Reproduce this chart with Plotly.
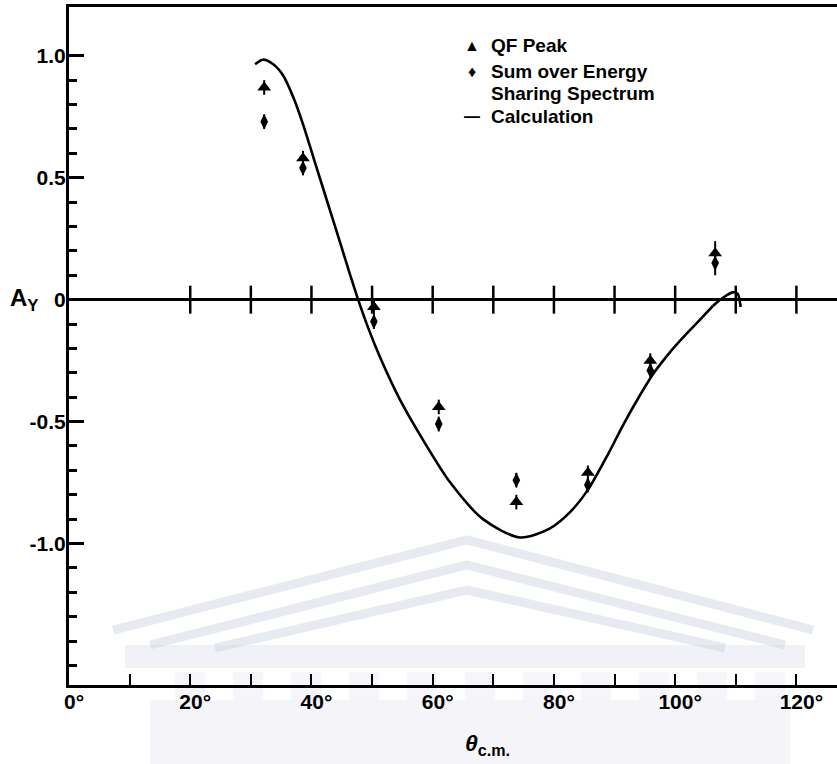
import plotly.graph_objects as go

# Measured analysing power A_y versus centre-of-mass angle
theta_cm = [32.2, 38.6, 50.3, 61.0, 73.8, 85.6, 95.9, 106.6]
ay_qf_peak = [0.87, 0.58, -0.03, -0.44, -0.83, -0.71, -0.25, 0.19]
ay_energy_sum = [0.73, 0.54, -0.09, -0.51, -0.74, -0.76, -0.29, 0.15]
ay_error = [0.03, 0.03, 0.03, 0.03, 0.03, 0.03, 0.03, 0.05]

# Calculated curve
calc_theta = [30.7, 32.0, 33.7, 35.3, 37.0, 38.6, 40.2, 41.8, 43.4, 45.0, 46.4, 47.7,
              49.5, 51.3, 54.6, 58.4, 62.9, 68.3, 74.4, 79.2, 82.7, 85.6, 89.0, 91.5,
              94.0, 96.5, 99.0, 101.5, 104.0, 106.5, 108.3, 109.5, 110.3, 110.8]
calc_ay = [0.965, 0.984, 0.965, 0.92, 0.83, 0.72, 0.593, 0.466, 0.339, 0.212, 0.10, 0.0,
           -0.125, -0.235, -0.41, -0.575, -0.75, -0.90, -0.975, -0.94, -0.87, -0.78, -0.63, -0.51,
           -0.40, -0.30, -0.22, -0.15, -0.085, -0.02, 0.015, 0.03, 0.025, -0.03]

# Axis ticks
x_major = [0, 20, 40, 60, 80, 100, 120]
x_labels = ["0°", "20°", "40°", "60°", "80°", "100°", "120°"]
x_minor = [10, 30, 50, 70, 90, 110]
zero_axis_ticks = [20, 30, 40, 50, 60, 70, 80, 90, 100, 110, 120]
y_major = [-1.0, -0.5, 0.0, 0.5, 1.0]
y_labels = ["-1.0", "-0.5", "0", "0.5", "1.0"]
y_minor = [-1.5, -1.4, -1.3, -1.2, -1.1, -0.9, -0.8, -0.7, -0.6, -0.4, -0.3, -0.2, -0.1,
           0.1, 0.2, 0.3, 0.4, 0.6, 0.7, 0.8, 0.9]

W, H = 837, 764
ML, MR, MT, MB = 69, 0, 7, 79
PW, PH = W - ML - MR, H - MT - MB
X_RANGE = [0, 126.7]
Y_RANGE = [-1.58, 1.2]


def px_x(px):
    return (px - ML) / PW


def px_y(py):
    return (H - MB - py) / PH


FONT = "Liberation Sans"
fig = go.Figure()

# crossing ticks on the A_y = 0 line
fig.add_trace(go.Scatter(
    x=zero_axis_ticks, y=[0] * len(zero_axis_ticks), mode="markers",
    marker=dict(symbol="line-ns", size=20, line=dict(width=2.5, color="black")),
    hoverinfo="skip", showlegend=False))

fig.add_trace(go.Scatter(
    x=calc_theta, y=calc_ay, mode="lines",
    line=dict(color="black", width=2.6, shape="spline", smoothing=0.8),
    name="Calculation", showlegend=False))

fig.add_trace(go.Scatter(
    x=theta_cm, y=ay_energy_sum, mode="markers",
    marker=dict(symbol="diamond-tall", size=11, color="black"),
    error_y=dict(type="data", array=ay_error, thickness=2, width=0, color="black"),
    name="Sum over Energy Sharing Spectrum", showlegend=False))

fig.add_trace(go.Scatter(
    x=theta_cm, y=ay_qf_peak, mode="markers",
    marker=dict(symbol="triangle-up", size=12, color="black"),
    error_y=dict(type="data", array=ay_error, thickness=2, width=0, color="black"),
    name="QF Peak", showlegend=False))

# faint pediment emblem behind the lower part of the frame
wm_line = "rgba(185,190,215,0.32)"
wm_fill = "rgba(200,204,225,0.26)"
roof = [
    [(113, 630), (467, 540), (813, 630)],
    [(150, 645), (467, 565), (785, 645)],
    [(215, 648), (467, 590), (725, 648)],
]
shapes = []
for pts in roof:
    path = "M " + " L ".join(f"{px_x(a):.4f},{px_y(b):.4f}" for a, b in pts)
    shapes.append(dict(type="path", path=path, xref="paper", yref="paper",
                       line=dict(color=wm_line, width=9), layer="below"))
shapes.append(dict(type="rect", xref="paper", yref="paper",
                   x0=px_x(125), x1=px_x(805), y0=px_y(668), y1=px_y(645),
                   fillcolor=wm_fill, line=dict(width=0), layer="below"))
shapes.append(dict(type="rect", xref="paper", yref="paper",
                   x0=px_x(150), x1=px_x(790), y0=px_y(764), y1=px_y(700),
                   fillcolor="rgba(208,211,230,0.24)", line=dict(width=0), layer="below"))
for c in range(11):
    cx = 175 + c * 58
    shapes.append(dict(type="rect", xref="paper", yref="paper",
                       x0=px_x(cx), x1=px_x(cx + 30), y0=px_y(700), y1=px_y(672),
                       fillcolor="rgba(208,211,230,0.20)", line=dict(width=0), layer="below"))

annotations = []
leg_font = dict(family=FONT, size=19, color="black", weight="bold")
legend_rows = [
    ("▲", "QF Peak", 45),
    ("♦", "Sum over Energy", 71),
    ("", "Sharing Spectrum", 94),
    ("—", "Calculation", 117),
]
for sym, txt, py in legend_rows:
    annotations.append(dict(x=px_x(489), y=px_y(py), xref="paper", yref="paper",
                            text=txt, showarrow=False, xanchor="left", yanchor="middle",
                            font=leg_font))
    if sym:
        annotations.append(dict(x=px_x(472), y=px_y(py), xref="paper", yref="paper",
                                text=sym, showarrow=False, xanchor="center", yanchor="middle",
                                font=dict(family=FONT, size=16, color="black", weight="bold")))

annotations.append(dict(x=px_x(8), y=0, xref="paper", yref="y",
                        text="A<sub>Y</sub>", showarrow=False, xanchor="left", yanchor="middle",
                        font=dict(family=FONT, size=24, color="black", weight="bold")))
annotations.append(dict(x=px_x(463), y=px_y(745), xref="paper", yref="paper",
                        text="<i>θ</i><sub>c.m.</sub>", showarrow=False, xanchor="left",
                        yanchor="middle",
                        font=dict(family=FONT, size=23, color="black", weight="bold")))

tick_font = dict(family=FONT, size=21, color="black", weight="bold")
fig.update_layout(
    width=W, height=H, autosize=False,
    margin=dict(l=ML, r=MR, t=MT, b=MB, pad=0),
    paper_bgcolor="white", plot_bgcolor="rgba(0,0,0,0)",
    showlegend=False,
    shapes=shapes, annotations=annotations,
    xaxis=dict(range=X_RANGE, showgrid=False, zeroline=False,
               showline=True, linewidth=2.5, linecolor="black", mirror=True,
               ticks="inside", ticklen=11, tickwidth=2, tickcolor="black",
               tickvals=x_major, ticktext=x_labels, tickfont=tick_font,
               ticklabelshift=5, ticklabelstandoff=-4,
               minor=dict(tickvals=x_minor, ticks="inside", ticklen=11,
                          tickwidth=2, tickcolor="black", showgrid=False)),
    yaxis=dict(range=Y_RANGE, showgrid=False,
               zeroline=True, zerolinewidth=3, zerolinecolor="black",
               showline=True, linewidth=3, linecolor="black",
               ticks="inside", ticklen=15, tickwidth=2.5, tickcolor="black",
               tickvals=y_major, ticktext=y_labels, tickfont=tick_font,
               ticklabelstandoff=-4,
               minor=dict(tickvals=y_minor, ticks="inside", ticklen=8,
                          tickwidth=2.5, tickcolor="black", showgrid=False)),
)

fig.write_html("out.html")
